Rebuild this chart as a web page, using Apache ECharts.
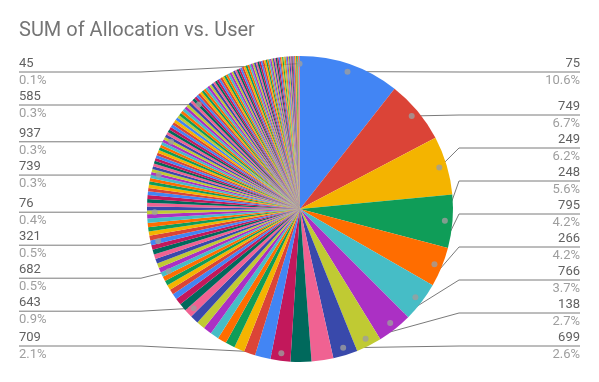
<!DOCTYPE html>
<html>
<head>
<meta charset="utf-8">
<script src="https://cdn.jsdelivr.net/npm/echarts@6/dist/echarts.min.js"></script>
<style>html,body{margin:0;padding:0;background:#fff}#c{width:599px;height:382px}</style>
</head>
<body>
<div id="c"></div>
<script>
// Slice values (share of total allocation, %), sorted as in the chart (clockwise from top)
const values = [
  10.6, 6.7, 6.2, 5.6, 4.2, 4.2, 3.7, 2.7, 2.6, 2.3, 2.2, 2.1,
  1.65, 1.2, 1.1, 1.0, 0.95, 0.9, 0.9, 0.9, 0.9, 0.9,
  0.8, 0.7, 0.6, 0.55, 0.55, 0.5, 0.5, 0.5,
  0.5, 0.5, 0.5, 0.5, 0.5, 0.5, 0.5,
  0.5, 0.45, 0.45, 0.45, 0.45, 0.45, 0.4,
  0.4, 0.4, 0.4, 0.4, 0.4, 0.35, 0.35, 0.35, 0.35, 0.35, 0.3,
  0.3, 0.3, 0.3, 0.3, 0.3, 0.3, 0.3, 0.3, 0.3, 0.3, 0.3, 0.3, 0.3,
  0.3, 0.3, 0.3, 0.3, 0.3, 0.3, 0.3, 0.3, 0.3, 0.3, 0.3, 0.3, 0.3, 0.3, 0.3, 0.3, 0.3,
  0.25, 0.25, 0.25, 0.25, 0.25, 0.25, 0.25, 0.25, 0.25, 0.25,
  0.22, 0.22, 0.22, 0.22, 0.22, 0.22, 0.22, 0.22, 0.22, 0.22,
  0.2, 0.2, 0.2, 0.2, 0.2, 0.2, 0.2, 0.2, 0.2, 0.2,
  0.18, 0.18, 0.18, 0.18, 0.18, 0.18, 0.18, 0.18, 0.18, 0.18,
  0.15, 0.15, 0.15, 0.15, 0.15, 0.15, 0.15, 0.15, 0.15, 0.15,
  0.12, 0.12, 0.12, 0.12, 0.12, 0.12, 0.12, 0.12, 0.12, 0.12,
  0.1, 0.1, 0.1, 0.1, 0.1, 0.1, 0.1, 0.1,
  0.1
];
// Slices that carry a label: their position in `values` and their user name
const labelIndex = [0, 1, 2, 3, 4, 5, 6, 7, 8, 11, 21, 29, 36, 43, 54, 67, 84, 153];
const labelUsers = ['75', '749', '249', '248', '795', '266', '766', '138', '699', '709', '643', '682', '321', '76', '739', '937', '585', '45'];
const palette = ['#4285F4', '#DB4437', '#F4B400', '#0F9D58', '#FF6D00', '#46BDC6', '#AB30C4', '#C0CA33', '#3949AB', '#F06292', '#00695C', '#C2185B'];
const titleText = 'SUM of Allocation vs. User';

// layout / style constants
const CX = 300, CY = 209, R = 153;
const DOT_R = 0.95;            // dot sits at 95% of the radius
const LABEL_TOP = 72, LABEL_BOTTOM = 346, LABEL_GAP = 33;

const total = values.reduce((a, b) => a + b, 0);

// mid angle of each labelled slice (clockwise from 12 o'clock), dot position, label line y
const labelInfo = {};
(function () {
  let acc = 0;
  const left = [], right = [];
  values.forEach((v, i) => {
    if (labelIndex.indexOf(i) >= 0) {
      const mid = acc + v / 2;
      const th = mid / total * Math.PI * 2;
      const info = {
        mid: mid,
        dot: [CX + DOT_R * R * Math.sin(th), CY - DOT_R * R * Math.cos(th)],
        isLeft: Math.sin(th) < 0
      };
      info.y = Math.min(LABEL_BOTTOM, Math.max(LABEL_TOP, info.dot[1]));
      labelInfo[i] = info;
      (info.isLeft ? left : right).push(info);
    }
    acc += v;
  });
  [left, right].forEach(list => {
    list.sort((a, b) => a.y - b.y);
    for (let k = 1; k < list.length; k++) {
      if (list[k].y < list[k - 1].y + LABEL_GAP) list[k].y = list[k - 1].y + LABEL_GAP;
    }
    if (list.length) {
      if (list[list.length - 1].y > LABEL_BOTTOM) list[list.length - 1].y = LABEL_BOTTOM;
      for (let k = list.length - 2; k >= 0; k--) {
        if (list[k].y > list[k + 1].y - LABEL_GAP) list[k].y = list[k + 1].y - LABEL_GAP;
      }
    }
  });
})();

const pieData = values.map((v, i) => {
  const k = labelIndex.indexOf(i);
  const item = { value: v, name: k >= 0 ? labelUsers[k] : '' };
  if (k >= 0) {
    item.label = { show: true };
    item.labelLine = { show: true };
  }
  return item;
});

const dots = labelIndex.map(i => [DOT_R, labelInfo[i].mid]);

const chart = echarts.init(document.getElementById('c'), null, { renderer: 'canvas' });
chart.setOption({
  animation: false,
  backgroundColor: '#fff',
  color: palette,
  title: {
    text: titleText, left: 14, top: 16,
    textStyle: { fontFamily: 'Roboto', fontSize: 20, fontWeight: 'normal', color: '#757575' }
  },
  polar: { center: [CX, CY], radius: R },
  angleAxis: { type: 'value', min: 0, max: total, startAngle: 90, clockwise: true, show: false },
  radiusAxis: { type: 'value', min: 0, max: 1, show: false },
  series: [
    {
      type: 'pie',
      center: [CX, CY],
      radius: R,
      startAngle: 90,
      clockwise: true,
      avoidLabelOverlap: true,
      minShowLabelAngle: 0,
      percentPrecision: 1,
      itemStyle: { borderWidth: 0 },
      emphasis: { disabled: true },
      data: pieData,
      label: {
        show: false,
        position: 'outer',
        alignTo: 'edge',
        edgeDistance: 19,
        formatter: '{n|{b}}\n{p|{d}%}',
        rich: {
          n: { fontFamily: 'Roboto', fontSize: 13, color: '#616161', lineHeight: 17 },
          p: { fontFamily: 'Roboto', fontSize: 13, color: '#9e9e9e', lineHeight: 17 }
        }
      },
      labelLine: {
        show: false, length: 6, length2: 10,
        lineStyle: { color: '#7a7a7a', width: 1 }
      },
      labelLayout: function (p) {
        const info = labelInfo[p.dataIndex];
        if (!info) return {};
        const y = info.y;
        const bendX = info.isLeft ? CX - R - 6 : CX + R + 6;
        const endX = info.isLeft ? p.labelRect.x : p.labelRect.x + p.labelRect.width;
        return {
          y: y,
          verticalAlign: 'middle',
          labelLinePoints: [info.dot, [bendX, y], [endX, y]]
        };
      }
    },
    {
      type: 'scatter',
      coordinateSystem: 'polar',
      data: dots,
      symbolSize: 6,
      silent: true,
      z: 5,
      itemStyle: { color: '#9e9e9e' }
    }
  ]
});
</script>
</body>
</html>
